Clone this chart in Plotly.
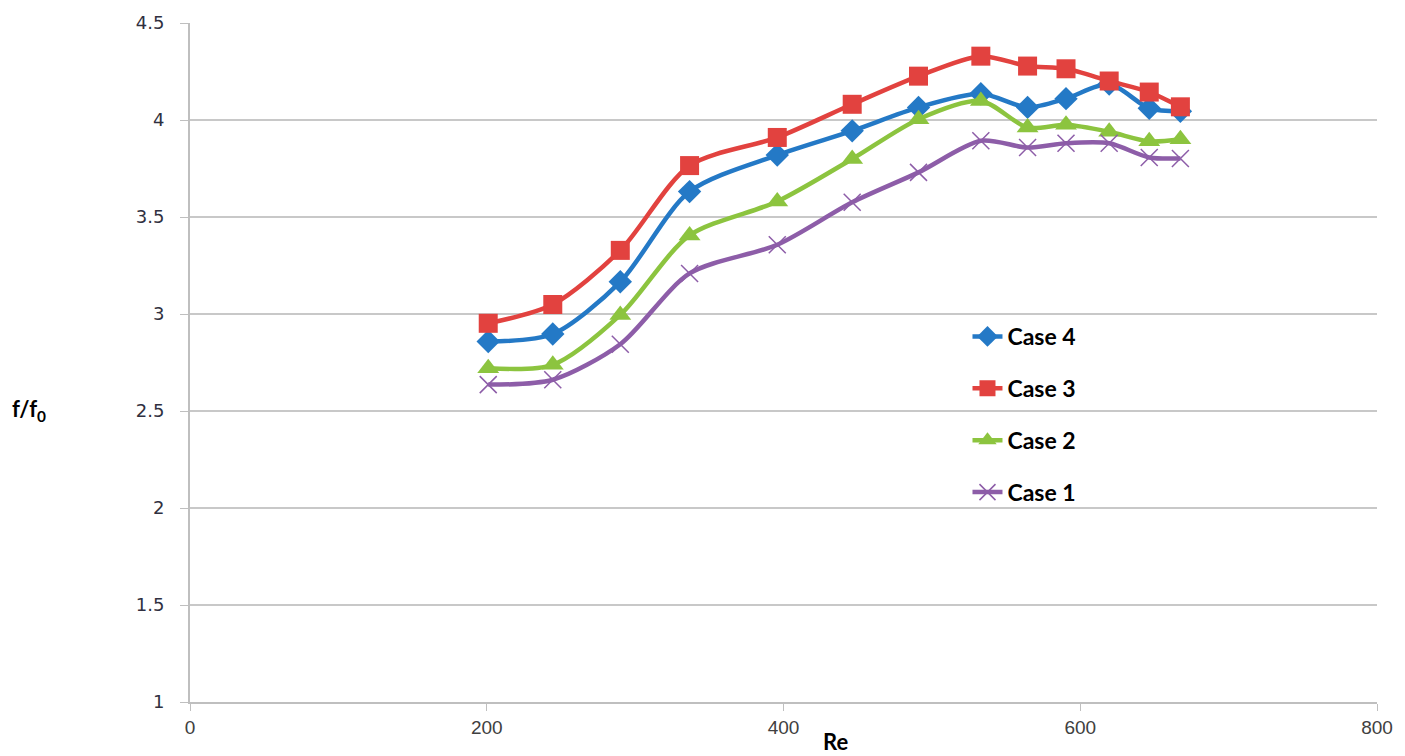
import plotly.graph_objects as go

re_vals = [201, 244.5, 290, 336.7, 395.8, 446.3, 491, 533, 564.5, 590.4, 619.5, 646.5, 667.5]

case4 = [2.858, 2.897, 3.166, 3.631, 3.819, 3.944, 4.065, 4.135, 4.065, 4.11, 4.185, 4.06, 4.045]
case3 = [2.952, 3.049, 3.328, 3.765, 3.910, 4.081, 4.226, 4.329, 4.278, 4.264, 4.201, 4.144, 4.068]
case2 = [2.721, 2.738, 2.995, 3.405, 3.580, 3.799, 4.004, 4.098, 3.961, 3.975, 3.939, 3.890, 3.901]
case1 = [2.636, 2.661, 2.844, 3.209, 3.357, 3.576, 3.730, 3.893, 3.858, 3.880, 3.880, 3.807, 3.802]

x_ticks = [0, 200, 400, 600, 800]
y_ticks = [1, 1.5, 2, 2.5, 3, 3.5, 4, 4.5]
y_tick_text = ["1", "1.5", "2", "2.5", "3", "3.5", "4", "4.5"]

series = [
    ("Case 4", case4, "#2479C6", "diamond", 18, 0),
    ("Case 3", case3, "#E2423F", "square", 19, 0),
    ("Case 2", case2, "#8CC43F", "triangle-up", 19, 0),
    ("Case 1", case1, "#8D5DA8", "x-thin", 17, 1.5),
]

fig = go.Figure()
for i, (name, ys, color, sym, size, lw) in enumerate(series):
    fig.add_trace(go.Scatter(
        x=re_vals, y=ys, name=name, mode="lines+markers",
        line=dict(color=color, width=4.5, shape="spline", smoothing=0.8),
        marker=dict(symbol=sym, size=size, color=color,
                    line=dict(color=color, width=lw)),
        legendgroup="g%d" % i,
    ))

fig.update_layout(
    width=1405, height=756,
    margin=dict(l=190, r=27, t=16, b=54),
    plot_bgcolor="white", paper_bgcolor="white",
    showlegend=True,
    legend=dict(x=0.655, y=0.57, xanchor="left", yanchor="top",
                font=dict(family="Lato", size=23, color="black", weight="bold"),
                tracegroupgap=19, bgcolor="rgba(0,0,0,0)"),
    xaxis=dict(range=[0, 800], tickvals=x_ticks, showgrid=False,
               showline=True, linecolor="#BFBFBF", linewidth=2,
               ticks="outside", ticklen=7, tickcolor="#BFBFBF", tickwidth=1,
               tickfont=dict(family="Liberation Sans Narrow, Liberation Sans", size=19, color="#404040"),
               zeroline=False),
    yaxis=dict(range=[1, 4.5], tickvals=y_ticks, ticktext=y_tick_text,
               showgrid=True, gridcolor="#C8C8C8", gridwidth=2,
               showline=True, linecolor="#BFBFBF", linewidth=2,
               ticks="outside", ticklen=8, tickcolor="#BFBFBF", tickwidth=1,
               tickfont=dict(family="DejaVu Sans", size=18, color="#303040"),
               ticklabelstandoff=12, zeroline=False),
    annotations=[
        dict(text="<b>f/f<sub>0</sub></b>", xref="paper", yref="paper",
             x=-0.152, y=0.43, showarrow=False, xanchor="left",
             font=dict(family="Lato", size=22, color="black")),
        dict(text="<b>Re</b>", xref="x", yref="paper", x=425, y=-0.035,
             showarrow=False, yanchor="top", xanchor="left",
             font=dict(family="Lato", size=22, color="black")),
    ],
)

fig.write_html(
    "out.html",
    config={"displayModeBar": False},
    post_script="document.body.style.margin='0px';document.body.style.overflow='hidden';",
)
